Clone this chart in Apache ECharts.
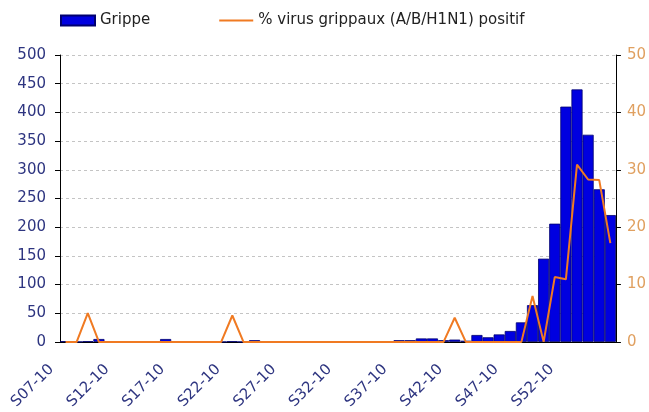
<!DOCTYPE html>
<html>
<head>
<meta charset="utf-8">
<script src="https://cdn.jsdelivr.net/npm/echarts@6/dist/echarts.min.js"></script>
<style>
  html, body { margin: 0; padding: 0; background: #fff; }
  #chart { width: 649px; height: 412px; }
</style>
</head>
<body>
<div id="chart"></div>
<script>
// semaines (axe des catégories)
var weeks = [
  'S07-10','S08-10','S09-10','S10-10','S11-10','S12-10','S13-10','S14-10','S15-10','S16-10',
  'S17-10','S18-10','S19-10','S20-10','S21-10','S22-10','S23-10','S24-10','S25-10','S26-10',
  'S27-10','S28-10','S29-10','S30-10','S31-10','S32-10','S33-10','S34-10','S35-10','S36-10',
  'S37-10','S38-10','S39-10','S40-10','S41-10','S42-10','S43-10','S44-10','S45-10','S46-10',
  'S47-10','S48-10','S49-10','S50-10','S51-10','S52-10','S01-11','S02-11','S03-11','S04-11'
];

// cas de grippe (axe gauche)
var grippe = [
  1, 0, 1, 5, 0, 0, 0, 0, 0, 5,
  0, 0, 0, 0, 0, 1, 0, 3, 0, 0,
  0, 0, 0, 0, 0, 0, 0, 0, 0, 0,
  3, 3, 6, 6, 3, 4, 2, 12, 8, 13,
  19, 34, 64, 145, 206, 410, 440, 361, 266, 221
];

// % virus grippaux positifs (axe droit)
var positif = [
  0, 0, 5, 0, 0, 0, 0, 0, 0, 0,
  0, 0, 0, 0, 0, 4.6, 0, 0, 0, 0,
  0, 0, 0, 0, 0, 0, 0, 0, 0, 0,
  0, 0, 0, 0, 0, 4.2, 0, 0, 0, 0,
  0, 0, 8, 0, 11.3, 10.9, 30.9, 28.3, 28.2, 17.2
];

var chart = echarts.init(document.getElementById('chart'));

var option = {
  animation: false,
  textStyle: { fontFamily: 'DejaVu Sans, sans-serif' },
  legend: {
    left: 60,
    top: 13,
    padding: 0,
    itemGap: 68,
    itemWidth: 34,
    itemHeight: 10,
    textStyle: { fontSize: 15, color: '#222' },
    data: [
      { name: 'Grippe', icon: 'rect' },
      { name: '% virus grippaux (A/B/H1N1) positif', itemStyle: { opacity: 0 } }
    ]
  },
  grid: { left: 60, right: 33, top: 55, bottom: 69 },
  xAxis: {
    type: 'category',
    data: weeks,
    boundaryGap: true,
    axisLine: { lineStyle: { color: '#000', width: 1 } },
    axisTick: { interval: 0, length: 5, lineStyle: { color: '#000' } },
    axisLabel: {
      interval: 4,
      rotate: 45,
      margin: 11,
      padding: [0, 20, 0, 0],
      fontSize: 15,
      color: '#2e3580'
    }
  },
  yAxis: [
    {
      type: 'value',
      min: 0, max: 500, interval: 50,
      axisLine: { show: true, lineStyle: { color: '#000' } },
      axisTick: { show: true, length: 5, lineStyle: { color: '#000' } },
      axisLabel: { fontSize: 15, color: '#2e3580', margin: 14 },
      splitLine: { lineStyle: { type: [3, 3], color: '#c4c4c4' } }
    },
    {
      type: 'value',
      min: 0, max: 50, interval: 10,
      position: 'right',
      axisLine: { show: true, lineStyle: { color: '#000' } },
      axisTick: { show: true, length: 5, lineStyle: { color: '#000' } },
      axisLabel: { fontSize: 15, color: '#e0a060', margin: 11 },
      splitLine: { show: false }
    }
  ],
  series: [
    {
      name: 'Grippe',
      type: 'bar',
      data: grippe,
      barCategoryGap: '0%',
      itemStyle: { color: '#0000e0', borderColor: '#000070', borderWidth: 0.8 }
    },
    {
      name: '% virus grippaux (A/B/H1N1) positif',
      type: 'line',
      yAxisIndex: 1,
      data: positif,
      symbol: 'none',
      z: 5,
      lineStyle: { color: '#f07a22', width: 2 },
      itemStyle: { color: '#f07a22' }
    }
  ]
};

chart.setOption(option);
</script>
</body>
</html>
